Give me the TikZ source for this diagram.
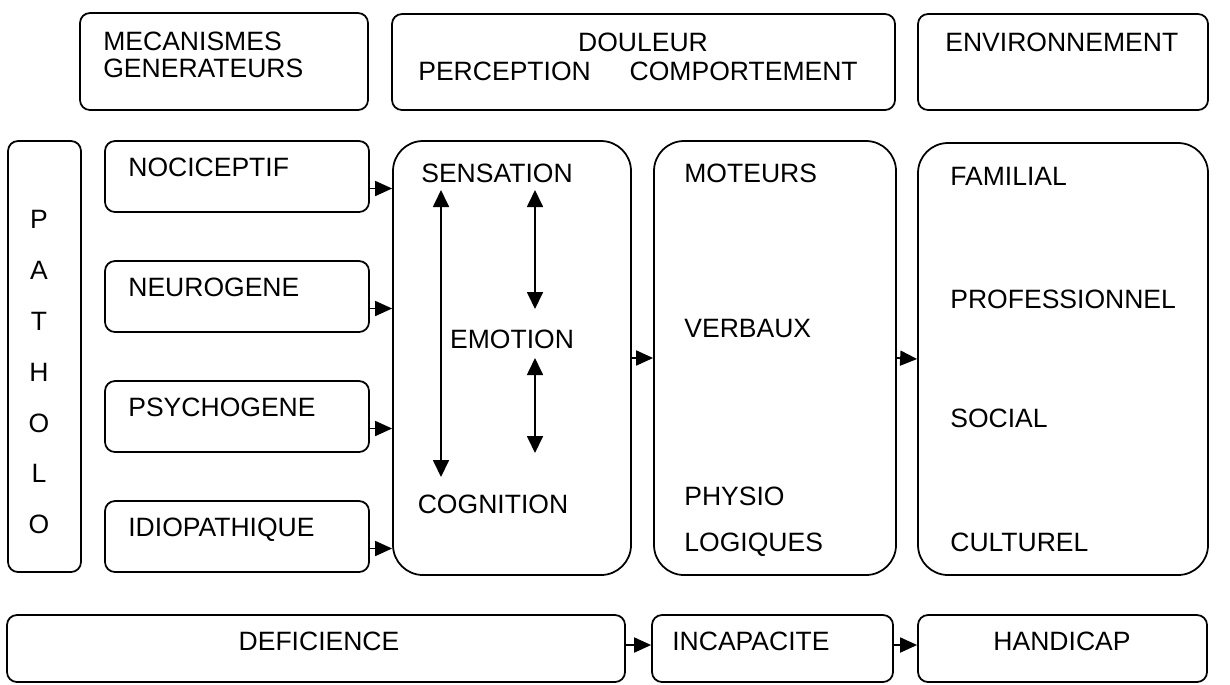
\documentclass[tikz,border=0pt]{standalone}
\usepackage{fontspec}
\setmainfont{Liberation Sans}
\usetikzlibrary{positioning,fit,calc,arrows.meta}

\begin{document}
\begin{tikzpicture}[x=0.02cm, y=-0.02cm,
  box/.style={draw, line width=1pt, rounded corners=0.2cm, inner sep=0pt},
  bigbox/.style={box, rounded corners=0.6cm},
  lbl/.style={inner sep=0pt, text height=1.38ex, text depth=0pt, yshift=-0.05cm,
    font=\fontsize{15.1}{17}\selectfont},
  arr/.style={line width=1pt, -{Triangle[length=3.4mm,width=3mm]}},
  dbl/.style={line width=1pt,
    {Triangle[length=3.4mm,width=3.2mm]}-{Triangle[length=3.4mm,width=3.2mm]}}]

  \useasboundingbox (0,0) rectangle (1230,684);

  % top row
  \node[box, fit={(80,13) (368,110)}] (meca) {};
  \node[lbl, anchor=west] (meca-l1) at (103,42) {MECANISMES};
  \node[lbl, anchor=west] (meca-l2) at (103,69) {GENERATEURS};

  \node[box, fit={(392,14) (895,110)}] (doul) {};
  \node[lbl] (doul-l1) at (643,43) {DOULEUR};
  \node[lbl, anchor=west] (doul-perc) at (418,72) {PERCEPTION};
  \node[lbl, anchor=east] (doul-comp) at (858,72) {COMPORTEMENT};

  \node[box, fit={(918,14) (1208,110)}] (envi) {};
  \node[lbl, anchor=west] (envi-l1) at (945,43) {ENVIRONNEMENT};

  % middle row
  \node[box, fit={(8,141) (81,572)}] (patho) {};
  \foreach \l [count=\k from 0] in {P,A,T,H,O,L,O} {
    \node[lbl] (patho-\k) at (39,220+50.8*\k) {\l};
  }

  \node[bigbox, fit={(393,141) (631,575)}] (perc) {};
  \node[bigbox, fit={(654,141) (896,575)}] (comp) {};
  \node[bigbox, fit={(918,143) (1208,575)}] (milieu) {};

  \foreach \i/\name/\txt in {0/noci/NOCICEPTIF, 1/neuro/NEUROGENE,
                            2/psycho/PSYCHOGENE, 3/idio/IDIOPATHIQUE} {
    \node[box, fit={(105,141+120*\i) (369,212+120*\i)}] (\name) {};
    \node[lbl, anchor=west] (\name-txt) at (128,168+120*\i) {\txt};
    \path ([yshift=-0.24cm]\name.east) coordinate (\name-out);
    \draw[arr] (\name-out) -- (\name-out -| perc.west);
  }

  \node[lbl] (sensa) at (497,174) {SENSATION};
  \node[lbl] (emo) at (512,340) {EMOTION};
  \node[lbl] (cogni) at (493,505) {COGNITION};
  \coordinate (sc-top) at (441,190);
  \coordinate (sc-bot) at (441,477);
  \coordinate (se-top) at (535,190);
  \coordinate (se-bot) at (535,309);
  \coordinate (ec-top) at (535,358);
  \coordinate (ec-bot) at (535,453);
  \draw[dbl] (sc-top) -- (sc-bot);
  \draw[dbl] (se-top) -- (se-bot);
  \draw[dbl] (ec-top) -- (ec-bot);

  \node[lbl, anchor=west] (mot) at (684,174) {MOTEURS};
  \node[lbl, anchor=west] (verb) at (684,329) {VERBAUX};
  \node[lbl, anchor=west] (phys) at (684,497) {PHYSIO};
  \node[lbl, anchor=west] (logi) at (684,543) {LOGIQUES};

  \node[lbl, anchor=west] (fam) at (950,177) {FAMILIAL};
  \node[lbl, anchor=west] (prof) at (950,300) {PROFESSIONNEL};
  \node[lbl, anchor=west] (soc) at (950,419) {SOCIAL};
  \node[lbl, anchor=west] (cult) at (950,543) {CULTUREL};

  \draw[arr] (perc.east) -- (comp.west);
  \draw[arr] (comp.east) -- (milieu.west);

  % bottom row
  \node[box, fit={(7,615) (625,682)}] (defi) {};
  \node[box, fit={(652,615) (893,682)}] (incap) {};
  \node[box, fit={(918,615) (1207,682)}] (handi) {};
  \node[lbl] (defi-txt) at (319,642) {DEFICIENCE};
  \node[lbl, anchor=west] (incap-txt) at (672,642) {INCAPACITE};
  \node[lbl] (handi-txt) at (1062,642) {HANDICAP};

  \path ([yshift=0.07cm]defi.east) coordinate (defi-out);
  \path ([yshift=0.07cm]incap.east) coordinate (incap-out);
  \draw[arr] (defi-out) -- (defi-out -| incap.west);
  \draw[arr] (incap-out) -- (incap-out -| handi.west);

\end{tikzpicture}
\end{document}
